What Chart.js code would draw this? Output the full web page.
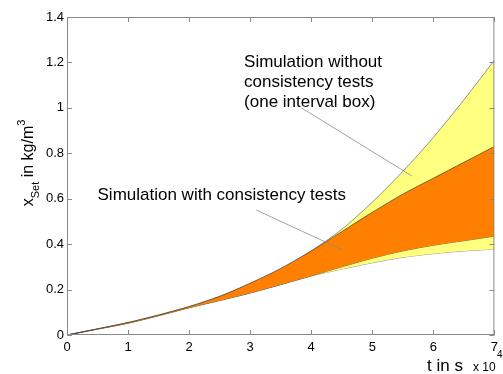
<!DOCTYPE html>
<html>
<head>
<meta charset="utf-8">
<script src="https://cdn.jsdelivr.net/npm/chart.js@4.4.1/dist/chart.umd.min.js"></script>
<style>
  html, body { margin: 0; padding: 0; background: #fff; }
  #wrap { width: 503px; height: 374px; }
</style>
</head>
<body>
<div id="wrap"><canvas id="chart" width="503" height="374"></canvas></div>
<script>
// time in 10^4 s
const times = [0, 0.5, 1, 1.5, 2, 2.5, 3, 3.5, 4, 4.5, 5, 5.5, 6, 6.5, 7]
// interval box bounds (without consistency tests)
const boxUpper = [0, 0.027, 0.055, 0.088, 0.125, 0.17, 0.225, 0.29, 0.37, 0.465, 0.585, 0.72, 0.87, 1.035, 1.21]
const boxLower = [0, 0.026, 0.052, 0.085, 0.12, 0.152, 0.185, 0.222, 0.26, 0.29, 0.318, 0.342, 0.358, 0.37, 0.378]
// bounds with consistency tests
const consUpper = [0, 0.027, 0.055, 0.088, 0.125, 0.17, 0.228, 0.293, 0.37, 0.455, 0.54, 0.62, 0.69, 0.76, 0.83]
const consLower = [0, 0.026, 0.052, 0.085, 0.12, 0.152, 0.185, 0.222, 0.26, 0.30, 0.338, 0.37, 0.395, 0.415, 0.435]

const xTicks = [0, 1, 2, 3, 4, 5, 6, 7]
const yTicks = [0, 0.2, 0.4, 0.6, 0.8, 1, 1.2, 1.4]

const FONT = 'Arial, "Liberation Sans", sans-serif'
Chart.defaults.font.family = FONT

const pts = ys => times.map((t, i) => ({ x: t, y: ys[i] }))
const edge = 'rgba(70,60,50,0.85)'

// text annotations, anchored in data units
const notes = [
  { lines: ['Simulation without', 'consistency tests', '(one interval box)'], x: 2.9, y: 1.2,
    from: [3.84, 1.0], to: [5.65, 0.70] },
  { lines: ['Simulation with consistency tests'], x: 0.5, y: 0.616,
    from: [3.1, 0.55], to: [4.52, 0.374] }
]

const decor = {
  id: 'decor',
  afterDatasetsDraw(chart) {
    const { ctx, chartArea: a, scales: { x, y } } = chart
    ctx.save()
    // frame + inward ticks
    ctx.strokeStyle = '#8a8a8a'
    ctx.lineWidth = 1
    ctx.strokeRect(a.left + 0.5, a.top + 0.5, a.right - a.left - 1, a.bottom - a.top - 1)
    ctx.beginPath()
    xTicks.forEach(v => {
      const px = Math.round(x.getPixelForValue(v)) + 0.5
      ctx.moveTo(px, a.bottom); ctx.lineTo(px, a.bottom - 5)
      ctx.moveTo(px, a.top); ctx.lineTo(px, a.top + 5)
    })
    yTicks.forEach(v => {
      const py = Math.round(y.getPixelForValue(v)) + 0.5
      ctx.moveTo(a.left, py); ctx.lineTo(a.left + 5, py)
      ctx.moveTo(a.right, py); ctx.lineTo(a.right - 5, py)
    })
    ctx.stroke()

    // annotations
    ctx.fillStyle = '#000'
    ctx.font = '17px ' + FONT
    ctx.textBaseline = 'middle'
    notes.forEach(n => {
      n.lines.forEach((s, i) => ctx.fillText(s, x.getPixelForValue(n.x), y.getPixelForValue(n.y) + i * 20))
      ctx.strokeStyle = '#8c8c8c'
      ctx.lineWidth = 0.8
      ctx.beginPath()
      ctx.moveTo(x.getPixelForValue(n.from[0]), y.getPixelForValue(n.from[1]))
      ctx.lineTo(x.getPixelForValue(n.to[0]), y.getPixelForValue(n.to[1]))
      ctx.stroke()
    })

    // y axis title: x_Set in kg/m^3
    ctx.save()
    ctx.translate(33, 163)
    ctx.rotate(-Math.PI / 2)
    ctx.textBaseline = 'alphabetic'
    const big = '16px ' + FONT, small = '11px ' + FONT
    const parts = [['x', big, 0], ['Set', small, 6], [' in kg/m', big, 0], ['3', small, -8]]
    let total = 0
    parts.forEach(p => { ctx.font = p[1]; total += ctx.measureText(p[0]).width })
    let cx = -total / 2
    parts.forEach(p => { ctx.font = p[1]; ctx.fillText(p[0], cx, p[2]); cx += ctx.measureText(p[0]).width })
    ctx.restore()

    // x axis title with exponent
    ctx.textBaseline = 'alphabetic'
    ctx.font = '17px ' + FONT
    ctx.fillText('t in s', 427, 371)
    ctx.font = '12px ' + FONT
    ctx.fillText('x 10', 473, 371)
    ctx.font = '10px ' + FONT
    ctx.fillText('4', 497, 358)
    ctx.restore()
  }
}

new Chart(document.getElementById('chart'), {
  type: 'line',
  data: {
    datasets: [
      { label: 'with consistency tests (upper)', data: pts(consUpper), fill: 1,
        backgroundColor: '#ff8000', borderColor: edge },
      { label: 'with consistency tests (lower)', data: pts(consLower), fill: false,
        borderColor: edge },
      { label: 'one interval box (upper)', data: pts(boxUpper), fill: 3,
        backgroundColor: '#ffff80', borderColor: 'rgba(90,90,90,0.8)' },
      { label: 'one interval box (lower)', data: pts(boxLower), fill: false,
        borderColor: 'rgba(90,90,90,0.8)' }
    ]
  },
  options: {
    responsive: false,
    animation: false,
    layout: { padding: { top: 17, right: 2, left: 0, bottom: 0 } },
    elements: {
      point: { radius: 0 },
      line: { borderWidth: 0.8, tension: 0.3 }
    },
    plugins: { legend: { display: false }, tooltip: { enabled: false } },
    scales: {
      x: {
        type: 'linear', min: 0, max: 7,
        grid: { display: false, drawTicks: false }, border: { display: false },
        afterFit: s => { s.height = 39 },
        afterBuildTicks: s => { s.ticks = xTicks.map(v => ({ value: v })) },
        ticks: { color: '#000', font: { size: 13 }, padding: 5, maxRotation: 0 }
      },
      y: {
        min: 0, max: 1.4,
        grid: { display: false, drawTicks: false }, border: { display: false },
        afterFit: s => { s.width = 67 },
        afterBuildTicks: s => { s.ticks = yTicks.map(v => ({ value: v })) },
        ticks: { color: '#000', font: { size: 13 }, padding: 3, callback: v => String(Math.round(v * 10) / 10) }
      }
    }
  },
  plugins: [decor]
})
</script>
</body>
</html>
